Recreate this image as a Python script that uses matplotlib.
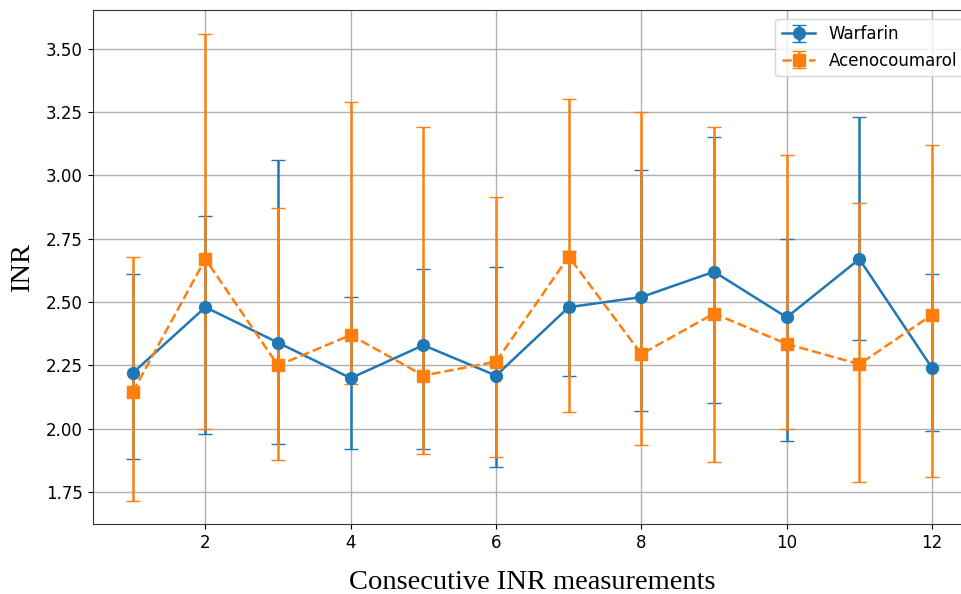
import matplotlib
matplotlib.use('Agg')
import matplotlib.pyplot as plt
import numpy as np

measurements = list(range(1, 13))

# Warfarin: mean and error bar ends
warfarin_mean = [2.22, 2.48, 2.34, 2.20, 2.33, 2.21, 2.48, 2.52, 2.62, 2.44, 2.67, 2.24]
warfarin_low = [1.88, 1.98, 1.94, 1.92, 1.92, 1.85, 2.21, 2.07, 2.10, 1.95, 2.35, 1.99]
warfarin_high = [2.61, 2.84, 3.06, 2.52, 2.63, 2.64, 2.70, 3.02, 3.15, 2.75, 3.23, 2.61]

# Acenocoumarol: mean and error bar ends
aceno_mean = [2.145, 2.67, 2.25, 2.37, 2.21, 2.265, 2.68, 2.295, 2.455, 2.335, 2.255, 2.45]
aceno_low = [1.715, 2.00, 1.875, 2.175, 1.90, 1.89, 2.065, 1.935, 1.87, 2.00, 1.79, 1.81]
aceno_high = [2.68, 3.56, 2.87, 3.29, 3.19, 2.915, 3.30, 3.25, 3.19, 3.08, 2.89, 3.12]

w_mean = np.array(warfarin_mean)
w_err = [w_mean - np.array(warfarin_low), np.array(warfarin_high) - w_mean]
a_mean = np.array(aceno_mean)
a_err = [a_mean - np.array(aceno_low), np.array(aceno_high) - a_mean]

fig = plt.figure(figsize=(9.62, 5.94), dpi=100)
# axes runs past the right edge, as in the cropped original
ax = fig.add_axes([0.0964, 0.1173, 0.914, 0.8654])

ax.errorbar(measurements, w_mean, yerr=w_err, fmt='-o', color='#1f77b4',
            markersize=8.5, linewidth=1.8, capsize=5, label='Warfarin')
ax.errorbar(measurements, a_mean, yerr=a_err, fmt='--s', color='#ff7f0e',
            markersize=8.5, linewidth=1.8, capsize=5, label='Acenocoumarol')

ax.set_xlim(0.45, 12.55)
ax.grid(True, color='#b0b0b0', linewidth=1)
ax.set_axisbelow(True)
ax.tick_params(labelsize=12)
for s in ax.spines.values():
    s.set_color('#333333')

ax.set_xlabel('Consecutive INR measurements', family='Liberation Serif',
              fontsize=20.5, labelpad=13)
ax.set_ylabel('INR', family='Liberation Serif', fontsize=20.5, labelpad=8)
ax.legend(loc='upper right', fontsize=12)

fig.savefig('out.png', dpi=100)
